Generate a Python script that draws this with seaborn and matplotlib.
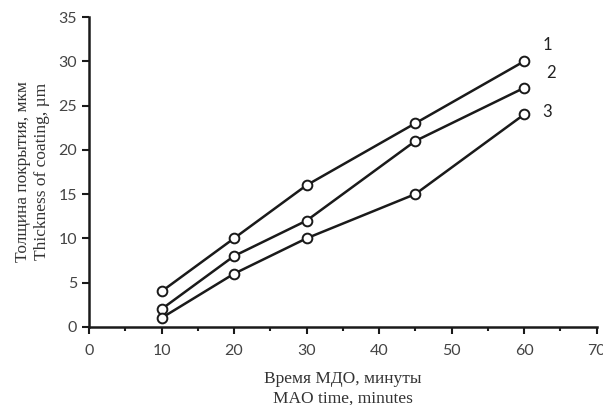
import pandas as pd
import matplotlib.pyplot as plt
import seaborn as sns
from matplotlib.ticker import MultipleLocator

sns.set_style("ticks")

# данные
время = [10, 20, 30, 45, 60]
линия_1 = [4, 10, 16, 23, 30]
линия_2 = [2, 8, 12, 21, 27]
линия_3 = [1, 6, 10, 15, 24]
номера = ["1", "2", "3"]

df = pd.DataFrame({
    "t": время * 3,
    "h": линия_1 + линия_2 + линия_3,
    "n": [номера[0]] * 5 + [номера[1]] * 5 + [номера[2]] * 5,
})

fig = plt.figure(figsize=(6.03, 4.05), dpi=100)
ax = fig.add_axes([0.1476, 0.193, 0.842, 0.765])

for n in номера:
    sns.lineplot(
        data=df[df["n"] == n], x="t", y="h", ax=ax,
        color="#1a1a1a", linewidth=1.8,
        marker="o", markersize=7, markerfacecolor="white",
        markeredgecolor="#1a1a1a", markeredgewidth=1.4,
    )

# подписи кривых
ax.text(63.2, 31.8, "1", fontsize=12, family="Lato", color="#222222", ha="center", va="center")
ax.text(63.7, 28.7, "2", fontsize=12, family="Lato", color="#222222", ha="center", va="center")
ax.text(63.2, 24.3, "3", fontsize=12, family="Lato", color="#222222", ha="center", va="center")

ax.set_xlim(0, 70)
ax.set_ylim(0, 35)
ax.xaxis.set_major_locator(MultipleLocator(10))
ax.xaxis.set_minor_locator(MultipleLocator(5))
ax.yaxis.set_major_locator(MultipleLocator(5))

for s in ["top", "right"]:
    ax.spines[s].set_visible(False)
for s in ["left", "bottom"]:
    ax.spines[s].set_linewidth(1.8)
    ax.spines[s].set_color("#1a1a1a")

ax.tick_params(axis="both", which="major", direction="out", length=5, width=1.5,
               colors="#1a1a1a", labelcolor="#444444", labelsize=11.5)
ax.tick_params(axis="x", which="minor", direction="out", length=3, width=1.5, colors="#1a1a1a")
ax.tick_params(axis="x", which="major", pad=7)
for lab in ax.get_xticklabels() + ax.get_yticklabels():
    lab.set_family("Lato")

ax.set_xlabel("Время МДО, минуты\nMAO time, minutes", family="Liberation Serif",
              fontsize=12.5, color="#333333", linespacing=1.25, labelpad=10)
ax.set_ylabel("Толщина покрытия, мкм\nThickness of coating, µm", family="Liberation Serif",
              fontsize=12.5, color="#333333", linespacing=1.25, labelpad=6)

fig.savefig("out.png", dpi=100)
